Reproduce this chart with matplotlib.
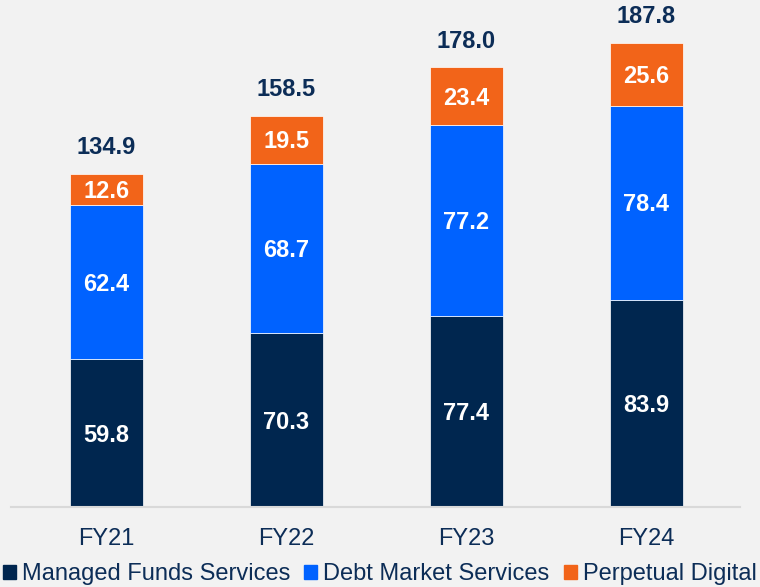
import matplotlib.pyplot as plt
import numpy as np
from matplotlib.patches import Patch

plt.rcParams['font.family'] = ['Liberation Sans', 'DejaVu Sans']

years = ["FY21", "FY22", "FY23", "FY24"]
managed = [59.8, 70.3, 77.4, 83.9]
debt = [62.4, 68.7, 77.2, 78.4]
digital = [12.6, 19.5, 23.4, 25.6]
totals = [134.9, 158.5, 178.0, 187.8]
series_names = ["Managed Funds Services", "Debt Market Services", "Perpetual Digital"]

navy = "#00264f"
blue = "#0062ff"
orange = "#f26419"
text_col = "#0c2d57"
bg = "#f2f2f2"

fig = plt.figure(figsize=(7.6, 5.87), dpi=100, facecolor=bg)
ax = fig.add_axes([11 / 760, 80 / 587, 729 / 760, 507 / 587], facecolor=bg)

x = np.arange(len(years))
w = 0.405
bottom = np.zeros(len(years))
for vals, col in zip([managed, debt, digital], [navy, blue, orange]):
    ax.bar(x, vals, w, bottom=bottom, color=col, edgecolor="white", linewidth=0.5)
    for xi, b, v in zip(x, bottom, vals):
        # labels sit a touch below the segment centre, like the original
        ax.text(xi, b + v / 2 - 0.8, f"{v:.1f}", ha="center", va="center",
                color="white", fontsize=17, fontweight="bold")
    bottom += np.array(vals)

for xi, t in zip(x, totals):
    ax.text(xi, t + 6, f"{t:.1f}", ha="center", va="bottom",
            color=text_col, fontsize=17, fontweight="bold")

ax.set_xlim(-0.53, 3.52)
ax.set_ylim(0, 205.3)
ax.set_xticks(x)
ax.set_xticklabels(years, fontsize=17, color=text_col)
ax.tick_params(axis="x", length=0, pad=15)
ax.set_yticks([])
for s in ["top", "right", "left"]:
    ax.spines[s].set_visible(False)
ax.spines["bottom"].set_color("#d9d9d9")
ax.spines["bottom"].set_linewidth(1.5)

handles = [Patch(color=c) for c in [navy, blue, orange]]
fig.legend(handles, series_names, loc="center left", bbox_to_anchor=(0.004, 0.022),
           ncol=3, frameon=False, fontsize=17, labelcolor=text_col,
           handlelength=0.55, handleheight=0.55, handletextpad=0.25,
           columnspacing=0.6, borderpad=0, borderaxespad=0)

fig.savefig("out.png", dpi=100, facecolor=bg)
